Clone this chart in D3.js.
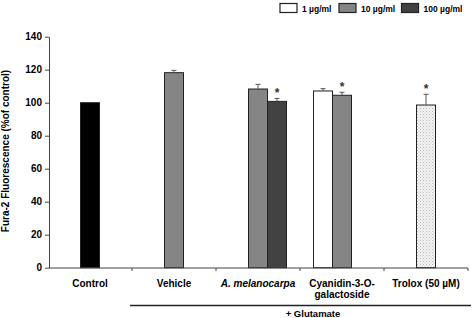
<!DOCTYPE html>
<html>
<head>
<meta charset="utf-8">
<script src="https://cdn.jsdelivr.net/npm/d3@7"></script>
<style>
  body { margin: 0; background: #fff; }
  svg { display: block; font-family: 'Liberation Sans', Arial, sans-serif; font-weight: bold; }
</style>
</head>
<body>
<div id="chart"></div>
<script>
// data
const categories = ['Control', 'Vehicle', 'A. melanocarpa', 'Cyanidin-3-O-galactoside', 'Trolox (50 µM)']
const doses = ['1', '10', '100']
const doseLabels = ['1 µg/ml', '10 µg/ml', '100 µg/ml']

const barCat = ['Control', 'Vehicle', 'A. melanocarpa', 'A. melanocarpa', 'Cyanidin-3-O-galactoside', 'Cyanidin-3-O-galactoside', 'Trolox (50 µM)']
const barSlot = ['10', '10', '10', '100', '1', '10', '10']
const barFill = ['control', '10', '10', '100', '1', '10', 'trolox']
const barValue = [100, 118.2, 108.3, 100.8, 107.1, 104.5, 98.6]
const barErr = [0, 1.4, 2.8, 1.8, 1.4, 1.8, 6.5]
const barSig = [false, false, false, true, false, true, true]

const yTicks = [0, 20, 40, 60, 80, 100, 120, 140]

const width = 472, height = 318
const svg = d3.select('#chart').append('svg').attr('width', width).attr('height', height)

const defs = svg.append('defs')
const pat = defs.append('pattern')
  .attr('id', 'dots').attr('patternUnits', 'userSpaceOnUse')
  .attr('width', 3).attr('height', 3)
pat.append('rect').attr('width', 3).attr('height', 3).attr('fill', '#f4f4f4')
pat.append('rect').attr('width', 1).attr('height', 1).attr('fill', '#b8b8b8')
pat.append('rect').attr('x', 1.5).attr('y', 1.5).attr('width', 1).attr('height', 1).attr('fill', '#c8c8c8')

const fills = {
  control: '#000000',
  '1': '#ffffff',
  '10': '#858585',
  '100': '#424242',
  trolox: 'url(#dots)',
}

const x = d3.scaleBand().domain(categories).range([48, 468])
const sub = d3.scaleBand().domain(doses).range([0, 57])
const y = d3.scaleLinear().domain([0, 140]).range([267.7, 36.7])

const bars = barValue.map((v, i) => ({
  cat: barCat[i], slot: barSlot[i], fill: barFill[i], value: v, err: barErr[i], sig: barSig[i],
}))
const barX = d => x(d.cat) + x.bandwidth() / 2 - 28.5 + sub(d.slot)

// y axis
svg.append('g')
  .attr('transform', 'translate(49,0)')
  .call(d3.axisLeft(y).tickValues(yTicks).tickSize(4).tickSizeOuter(0).tickPadding(3))
  .call(g => g.select('.domain').attr('stroke', '#444'))
  .call(g => g.selectAll('.tick line').attr('stroke', '#444'))
  .call(g => g.selectAll('.tick text').attr('font-size', 10).attr('font-weight', 'bold').attr('fill', '#000')
    .attr('font-family', "'Liberation Sans', Arial, sans-serif"))

svg.append('text')
  .attr('transform', 'translate(9,151) rotate(-90)')
  .attr('text-anchor', 'middle')
  .attr('font-size', 10)
  .text('Fura-2 Fluorescence (%of control)')

// bars
svg.append('g').selectAll('rect')
  .data(bars)
  .join('rect')
  .attr('x', d => barX(d))
  .attr('width', sub.bandwidth())
  .attr('y', d => y(d.value))
  .attr('height', d => y(0) - y(d.value))
  .attr('fill', d => fills[d.fill])
  .attr('stroke', '#222')
  .attr('stroke-width', 1)

// error bars (upper only)
const eb = svg.append('g').attr('stroke', '#555').attr('stroke-width', 1)
bars.filter(d => d.err > 0).forEach(d => {
  const cx = barX(d) + sub.bandwidth() / 2
  eb.append('line').attr('x1', cx).attr('x2', cx).attr('y1', y(d.value)).attr('y2', y(d.value + d.err))
  eb.append('line').attr('x1', cx - 2.5).attr('x2', cx + 2.5).attr('y1', y(d.value + d.err)).attr('y2', y(d.value + d.err))
})

// significance marks
svg.append('g').selectAll('text')
  .data(bars.filter(d => d.sig))
  .join('text')
  .attr('x', d => barX(d) + sub.bandwidth() / 2)
  .attr('y', d => y(d.value + d.err) - 1)
  .attr('text-anchor', 'middle')
  .attr('font-size', 12)
  .attr('font-weight', 'bold')
  .attr('fill', '#333')
  .text('*')

// x axis
const xa = svg.append('g').attr('transform', 'translate(0,268)')
xa.append('line').attr('x1', 49).attr('x2', 468).attr('stroke', '#444')
xa.selectAll('.bt')
  .data(categories)
  .join('line')
  .attr('x1', d => x(d) + x.bandwidth()).attr('x2', d => x(d) + x.bandwidth())
  .attr('y1', 0).attr('y2', 3)
  .attr('stroke', '#444')

const labels = xa.selectAll('.lbl')
  .data(categories)
  .join('text')
  .attr('x', d => x(d) + x.bandwidth() / 2)
  .attr('y', 19)
  .attr('text-anchor', 'middle')
  .attr('font-size', 10)
  .attr('font-style', d => d === 'A. melanocarpa' ? 'italic' : 'normal')
labels.each(function (d) {
  const t = d3.select(this)
  if (d === 'Cyanidin-3-O-galactoside') {
    t.append('tspan').attr('x', x(d) + x.bandwidth() / 2).text('Cyanidin-3-O-')
    t.append('tspan').attr('x', x(d) + x.bandwidth() / 2).attr('dy', 10.5).text('galactoside')
  } else {
    t.text(d)
  }
})

// glutamate bracket
svg.append('line')
  .attr('x1', x('Vehicle') - 2).attr('x2', 471)
  .attr('y1', 305.5).attr('y2', 305.5)
  .attr('stroke', '#222').attr('stroke-width', 1.5)
svg.append('text')
  .attr('x', 313).attr('y', 316.5)
  .attr('text-anchor', 'middle')
  .attr('font-size', 9.5)
  .text('+ Glutamate')

// legend
const legX = [280, 339, 401.5]
const leg = svg.append('g').selectAll('g')
  .data(doses)
  .join('g')
  .attr('transform', (d, i) => `translate(${legX[i]},3.5)`)
leg.append('rect')
  .attr('width', 17).attr('height', 9)
  .attr('fill', d => fills[d])
  .attr('stroke', '#222').attr('stroke-width', 1.2)
leg.append('text')
  .attr('x', 22).attr('y', 8)
  .attr('font-size', 8.5)
  .text((d, i) => doseLabels[i])
</script>
</body>
</html>
